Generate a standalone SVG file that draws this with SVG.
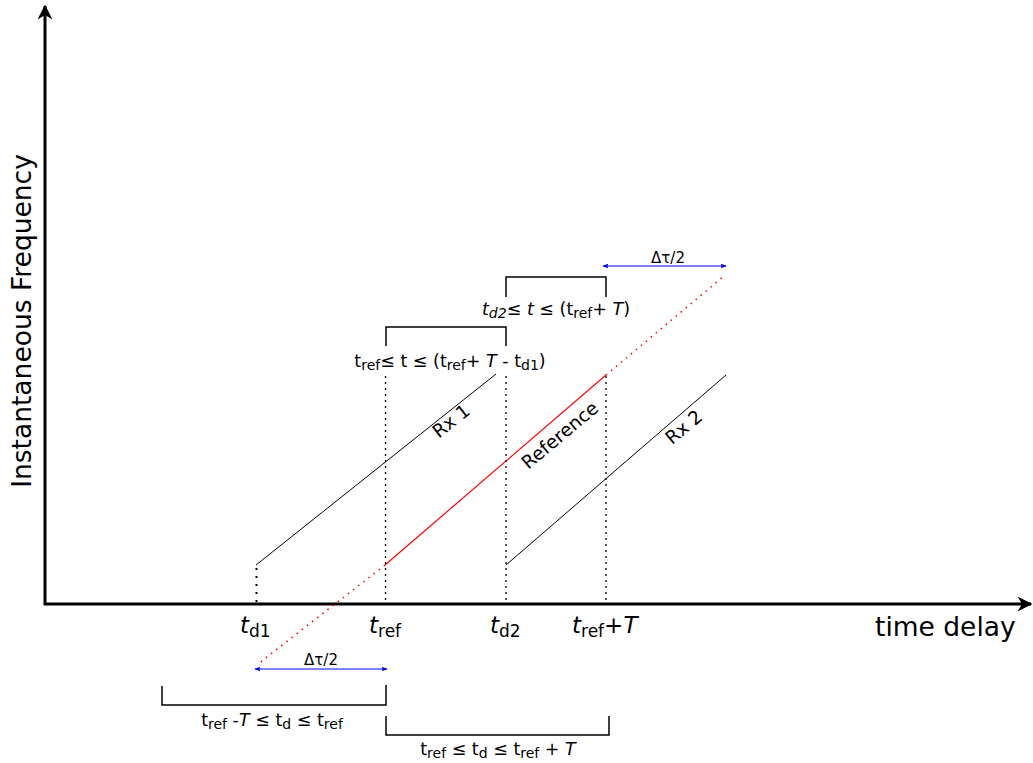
<svg xmlns="http://www.w3.org/2000/svg" width="1033" height="763" viewBox="0 0 1033 763">
<defs>
<marker id="ah" viewBox="0 0 10 10" refX="9" refY="5" markerWidth="5" markerHeight="5" orient="auto-start-reverse" markerUnits="strokeWidth"><path d="M0,0 L10,5 L0,10 L3,5 z" fill="#000"/></marker>
<marker id="bh" viewBox="0 0 10 10" refX="9" refY="5" markerWidth="6" markerHeight="6" orient="auto-start-reverse" markerUnits="strokeWidth"><path d="M0,1 L10,5 L0,9 L2,5 z" fill="#0000ff"/></marker>
<style>
text{font-family:"DejaVu Sans","Liberation Sans",sans-serif;fill:#000}
.axis{stroke:#000;stroke-width:3;fill:none}
.ln{stroke:#000;stroke-width:1;fill:none}
.red{stroke:#ff0000;stroke-width:1.2;fill:none}
.reddot{stroke:#ff0000;stroke-width:1.5;stroke-dasharray:1.5 5;fill:none}
.vdot{stroke:#000;stroke-width:1.3;stroke-dasharray:2 4;fill:none}
.vdot2{stroke:#000;stroke-width:2;stroke-dasharray:2 6;fill:none}
.brk{stroke:#000;stroke-width:1.5;fill:none}
.blue{stroke:#0000ff;stroke-width:1;fill:none}
.lbl{font-size:17.5px}
.rx{font-size:18.5px}
.tick{font-size:23px}
.sub{font-size:17px}
.s{font-size:14px}
.it{font-style:italic}
</style>
</defs>
<g id="axes">
<line class="axis" x1="45" y1="605" x2="45" y2="6" marker-end="url(#ah)"/>
<line class="axis" x1="44" y1="604" x2="1031" y2="604" marker-end="url(#ah)"/>
<text x="31" y="321" font-size="26.5" text-anchor="middle" transform="rotate(-90 31 321)">Instantaneous Frequency</text>
<text x="875" y="636" font-size="26.5">time delay</text>
</g>
<g id="connectors">
<line class="ln" x1="256" y1="565" x2="496" y2="374"/>
<line class="ln" x1="506" y1="565" x2="726" y2="375"/>
<line class="red" x1="385" y1="565" x2="606" y2="375"/>
<line class="reddot" x1="385" y1="565" x2="258" y2="664"/>
<line class="reddot" x1="606" y1="375" x2="724" y2="276"/>
<line class="vdot" x1="385.5" y1="376" x2="385.5" y2="603"/>
<line class="vdot" x1="506" y1="376" x2="506" y2="603"/>
<line class="vdot" x1="606" y1="376" x2="606" y2="603"/>
<line class="vdot2" x1="256.5" y1="568" x2="256.5" y2="603"/>
<line class="blue" x1="603" y1="266" x2="726" y2="266" marker-start="url(#bh)" marker-end="url(#bh)"/>
<line class="blue" x1="255" y1="669" x2="387" y2="669" marker-start="url(#bh)" marker-end="url(#bh)"/>
</g>
<g id="labels-lines">
<text class="rx" x="455" y="426" text-anchor="middle" transform="rotate(-38 455 426)">Rx 1</text>
<text class="rx" x="564" y="440" text-anchor="middle" transform="rotate(-40 564 440)">Reference</text>
<text class="rx" x="688" y="432" text-anchor="middle" transform="rotate(-40 688 432)">Rx 2</text>
<text x="668" y="263" font-size="15" text-anchor="middle">Δτ/2</text>
<text x="321" y="665" font-size="15" text-anchor="middle">Δτ/2</text>
</g>
<g id="ticks">
<text class="tick" x="240" y="633"><tspan class="it">t</tspan><tspan class="sub" dy="4">d1</tspan></text>
<text class="tick" x="369" y="633"><tspan class="it">t</tspan><tspan class="sub" dy="4">ref</tspan></text>
<text class="tick" x="490" y="633"><tspan class="it">t</tspan><tspan class="sub" dy="4">d2</tspan></text>
<text class="tick" x="572" y="633"><tspan class="it">t</tspan><tspan class="sub" dy="4">ref</tspan><tspan dy="-4">+</tspan><tspan class="it">T</tspan></text>
</g>
<g id="bracket-top2">
<path class="brk" d="M506,297 V277 H606 V297"/>
<text class="lbl" x="556" y="315" text-anchor="middle"><tspan class="it">t</tspan><tspan class="it s" dy="3">d2</tspan><tspan dy="-3">≤ </tspan><tspan class="it">t</tspan><tspan> ≤ (t</tspan><tspan class="s" dy="3">ref</tspan><tspan dy="-3">+ </tspan><tspan class="it">T</tspan><tspan>)</tspan></text>
</g>
<g id="bracket-top1">
<path class="brk" d="M386,346 V327 H506 V346"/>
<text class="lbl" x="450" y="367" text-anchor="middle"><tspan>t</tspan><tspan class="s" dy="3">ref</tspan><tspan dy="-3">≤ t ≤ (t</tspan><tspan class="s" dy="3">ref</tspan><tspan dy="-3">+ </tspan><tspan class="it">T</tspan><tspan> - t</tspan><tspan class="s" dy="3">d1</tspan><tspan dy="-3">)</tspan></text>
</g>
<g id="bracket-bottom1">
<path class="brk" d="M162,686 V705 H386 V685"/>
<text class="lbl" x="272" y="726" text-anchor="middle"><tspan>t</tspan><tspan class="s" dy="3">ref</tspan><tspan dy="-3"> -</tspan><tspan class="it">T</tspan><tspan> ≤ t</tspan><tspan class="s" dy="3">d</tspan><tspan dy="-3"> ≤ t</tspan><tspan class="s" dy="3">ref</tspan></text>
</g>
<g id="bracket-bottom2">
<path class="brk" d="M386,716 V735 H609 V716"/>
<text class="lbl" x="498" y="755" text-anchor="middle"><tspan>t</tspan><tspan class="s" dy="3">ref</tspan><tspan dy="-3"> ≤ t</tspan><tspan class="s" dy="3">d</tspan><tspan dy="-3"> ≤ t</tspan><tspan class="s" dy="3">ref</tspan><tspan dy="-3"> + </tspan><tspan class="it">T</tspan></text>
</g>
</svg>
